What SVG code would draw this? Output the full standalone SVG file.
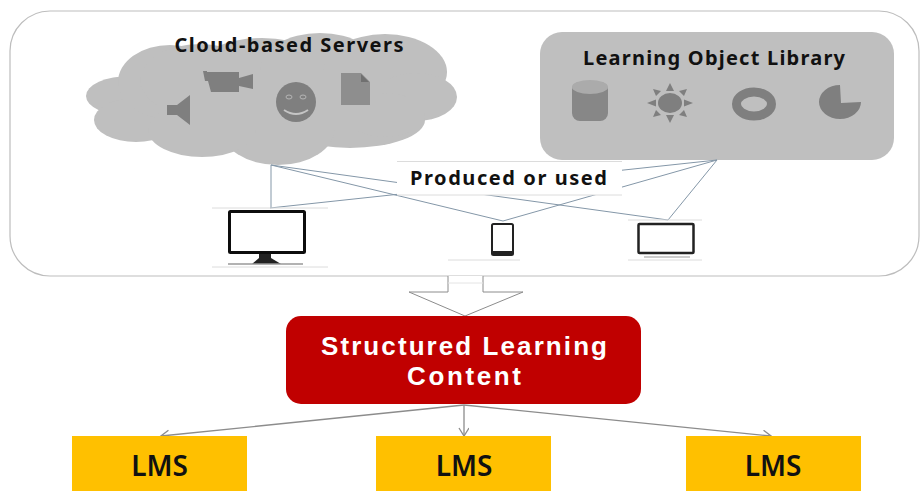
<svg xmlns="http://www.w3.org/2000/svg" width="921" height="491" viewBox="0 0 921 491">
<defs>
<filter id="soft" x="-5%" y="-5%" width="110%" height="110%"><feGaussianBlur stdDeviation="0.45"/></filter>
<marker id="open" markerWidth="12" markerHeight="12" refX="9" refY="5" orient="auto" markerUnits="userSpaceOnUse"><path d="M1 0 L9 5 L1 10" fill="none" stroke="#8c8c8c" stroke-width="1.300"/></marker>
</defs>
<style>
text{font-family:"Noto Sans","Open Sans","Liberation Sans",sans-serif;font-weight:700;text-anchor:middle;fill:#111}
.h{font-size:20px}
.lms{font-size:28px;font-weight:600}
.gi{fill:#7f7f7f}
.dev{fill:#fff;stroke:#111;stroke-width:3}
.faint{stroke:#dcdcdc;stroke-width:1;fill:none}
.link{stroke:#8497a8;stroke-width:1;fill:none}
.dn{stroke:#8c8c8c;stroke-width:1.300;fill:none;marker-end:url(#open)}
</style>
<rect width="921" height="491" fill="#fff"/>
<g id="container"><rect x="10" y="11" width="909" height="265" rx="40" fill="#fff" stroke="#bdbdbd" stroke-width="1.200"/></g>
<g id="cloud" filter="url(#soft)">
<g fill="#bfbfbf">
<ellipse cx="130" cy="96" rx="44" ry="20"/><ellipse cx="136" cy="120" rx="42" ry="22"/>
<ellipse cx="170" cy="82" rx="52" ry="37"/><ellipse cx="200" cy="80" rx="60" ry="36"/><ellipse cx="262" cy="75" rx="70" ry="37"/>
<ellipse cx="320" cy="70" rx="60" ry="37"/><ellipse cx="385" cy="72" rx="62" ry="38"/>
<ellipse cx="416" cy="97" rx="41" ry="24"/><ellipse cx="350" cy="120" rx="75" ry="28"/><ellipse cx="385" cy="115" rx="40" ry="22"/>
<ellipse cx="278" cy="128" rx="57" ry="37"/><ellipse cx="202" cy="130" rx="54" ry="27"/>
<rect x="170" y="70" width="210" height="60"/>
</g>
<path class="gi" d="M167 105 H177 L190 95 V125 L177 115 H167Z"/>
<path class="gi" d="M203 71 H207 V72 H239 V78 L253 74 V89 L239 86 V92 H211 L208 81 H205Z"/>
<circle class="gi" cx="296" cy="102" r="20"/>
<path d="M284 110 Q296 118 308 110" stroke="#c5c5c5" stroke-width="2" fill="none"/>
<ellipse cx="289" cy="97" rx="3" ry="2" fill="none" stroke="#b5b5b5"/><ellipse cx="303" cy="97" rx="3" ry="2" fill="none" stroke="#b5b5b5"/>
<path d="M341 73 H361 L370 82 V105 H341Z" fill="#8e8e8e"/><path d="M361 74 L369 82 H361Z" fill="#6f6f6f"/>
</g>
<g id="cloud-label"><text class="h" x="289" y="52" textLength="229">Cloud-based Servers</text></g>
<g id="library" filter="url(#soft)">
<rect x="540" y="32" width="354" height="128" rx="22" fill="#bfbfbf"/>
<rect x="572" y="82" width="36" height="39" rx="8" fill="#878787"/>
<ellipse cx="590" cy="87" rx="18" ry="7" fill="#ababab"/>
<ellipse cx="670" cy="103" rx="12" ry="10" class="gi"/>
<path class="gi" d="M670 83 L674 91 H666Z M670 123 L674 115 H666Z M647 103 L656 99.500 V106.500Z M693 103 L684 99.500 V106.500Z M653 89 L661 91 L656 96Z M687 89 L679 91 L684 96Z M653 117 L661 115 L656 110Z M687 117 L679 115 L684 110Z"/>
<ellipse cx="754" cy="104" rx="17.500" ry="12" fill="none" stroke="#7f7f7f" stroke-width="9"/>
<path class="gi" d="M840 85 A21 17 0 1 0 861 102 L841 103Z"/>
</g>
<g id="library-label"><text class="h" x="714" y="65" textLength="262">Learning Object Library</text></g>
<g id="connectors">
<path class="link" d="M271 165 V208"/>
<path class="link" d="M271 165 L668 220"/>
<path class="link" d="M271 165 L503 221"/>
<path class="link" d="M717 160 L270 208"/>
<path class="link" d="M717 160 L503 221"/>
<path class="link" d="M717 160 L668 220"/>
<path class="dn" d="M464 405 L161 436"/>
<path class="dn" d="M464 405 V436"/>
<path class="dn" d="M464 405 L771 436"/>
</g>
<g id="produced-label">
<rect x="397" y="162" width="225" height="33" fill="#fff"/>
<path class="faint" d="M397 161.500 H622 M397 195 H622"/>
<text class="h" x="508.500" y="185" textLength="197">Produced or used</text>
</g>
<g id="monitor" filter="url(#soft)">
<path class="faint" d="M212 208 H328 M212 267 H328"/>
<rect class="dev" x="229.500" y="211.500" width="75" height="41" rx="1"/>
<path d="M259 254 H271 V258 L281 264 H252 L259 258Z" fill="#222"/>
<path d="M228 264 H303" stroke="#999" stroke-width="1.500"/>
</g>
<g id="phone" filter="url(#soft)">
<path class="faint" d="M448 260 H520"/>
<rect x="492" y="224" width="21" height="31" rx="1.500" fill="#fff" stroke="#222" stroke-width="2"/>
<rect x="492" y="251" width="21" height="4" fill="#222"/>
</g>
<g id="tablet" filter="url(#soft)">
<path class="faint" d="M628 220 H702 M628 260 H702"/>
<rect x="638.500" y="224" width="55" height="29" rx="1" fill="#fff" stroke="#222" stroke-width="2.500"/>
<path d="M644 257 H690" stroke="#bbb" stroke-width="1.500"/>
</g>
<g id="big-arrow">
<path d="M448 276 V292 H409 L465 316 L523 292 H483 V276" fill="#fff" stroke="#8c8c8c" stroke-width="1"/>
<path d="M448 283 H483" stroke="#e4e4e4"/>
</g>
<g id="structured">
<rect x="286" y="316" width="355" height="88" rx="15" fill="#c00000"/>
<text font-size="26" style="fill:#fff;font-family:'Liberation Sans',sans-serif"><tspan x="464" y="355" textLength="286">Structured Learning</tspan><tspan x="464" y="385" textLength="114">Content</tspan></text>
</g>
<g id="lms1"><rect x="72" y="436" width="175" height="55" fill="#ffc000"/><text class="lms" x="159.500" y="476">LMS</text></g>
<g id="lms2"><rect x="376" y="436" width="175" height="55" fill="#ffc000"/><text class="lms" x="464" y="476">LMS</text></g>
<g id="lms3"><rect x="686" y="436" width="175" height="55" fill="#ffc000"/><text class="lms" x="773" y="476">LMS</text></g>
</svg>
